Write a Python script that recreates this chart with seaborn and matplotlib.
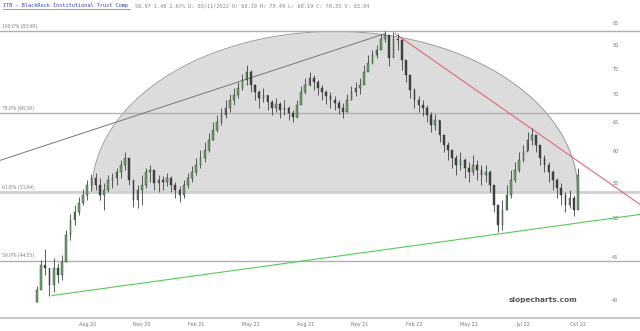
import matplotlib
matplotlib.use("Agg")
import matplotlib.pyplot as plt
from matplotlib.lines import Line2D
import numpy as np
import seaborn as sns
import pandas as pd

# weekly bars (bar index on x), prices
close = [41.1, 44.0, 43.6, 41.7, 43.6, 42.8, 44.4, 47.7, 49.7, 50.8,
         52.1, 53.2, 54.7, 55.7, 54.7, 53.2, 54.0, 55.5, 55.7, 56.7,
         57.8, 58.9, 55.5, 52.5, 54.0, 54.7, 56.7, 57.0, 55.0, 55.5,
         55.2, 55.7, 54.7, 54.0, 53.2, 54.7, 55.7, 56.7, 57.8, 58.9,
         60.2, 61.8, 63.5, 64.9, 66.2, 67.4, 68.9, 69.9, 71.2, 72.8,
         74.4, 71.8, 70.4, 69.3, 69.9, 68.6, 67.4, 68.2, 67.1, 67.4,
         66.5, 65.8, 68.0, 70.4, 71.8, 73.2, 72.4, 71.2, 70.4, 69.7,
         68.9, 68.4, 67.4, 66.7, 68.9, 70.4, 71.2, 71.8, 74.4, 76.3,
         77.9, 79.0, 81.4, 82.3, 77.3, 81.4, 81.2, 76.9, 73.8, 70.8,
         68.9, 68.0, 67.4, 66.2, 64.4, 65.3, 62.7, 61.0, 60.2, 58.9,
         57.8, 58.6, 57.3, 56.7, 57.8, 57.0, 56.2, 56.7, 54.7, 51.8,
         49.1, 51.1, 53.2, 55.5, 57.0, 58.6, 59.8, 61.8, 62.7, 61.0,
         58.9, 57.8, 56.7, 55.5, 54.3, 53.2, 51.8, 52.8, 51.1, 56.2]
high = [41.6, 44.6, 46.0, 43.6, 44.8, 44.3, 45.2, 48.4, 50.5, 51.8,
        52.9, 54.1, 55.5, 56.4, 56.6, 55.7, 55.0, 56.2, 56.6, 57.3,
        58.6, 59.8, 58.6, 55.5, 54.7, 56.2, 57.3, 57.8, 57.0, 56.2,
        56.1, 56.6, 56.1, 55.2, 54.6, 55.5, 56.6, 57.6, 58.9, 60.2,
        61.5, 63.0, 64.9, 66.2, 67.4, 68.9, 70.1, 71.2, 72.4, 74.0,
        75.8, 74.8, 72.0, 70.8, 71.2, 69.9, 68.9, 69.3, 68.6, 68.9,
        67.8, 67.1, 68.9, 71.6, 73.2, 74.4, 73.8, 72.8, 71.8, 70.8,
        70.4, 69.7, 68.9, 68.4, 70.1, 71.6, 72.4, 73.2, 75.8, 77.9,
        79.0, 80.1, 82.5, 83.1, 81.2, 82.9, 82.5, 80.1, 76.5, 73.8,
        71.2, 69.7, 68.9, 68.0, 66.7, 66.4, 65.3, 62.7, 61.5, 60.2,
        59.4, 59.8, 58.9, 58.2, 59.4, 58.6, 57.8, 57.8, 57.0, 54.3,
        51.8, 52.5, 54.7, 57.0, 58.2, 59.8, 61.0, 63.2, 63.9, 62.7,
        61.0, 59.4, 58.2, 57.0, 55.7, 55.0, 53.7, 54.0, 53.2, 57.3]
low = [39.8, 41.7, 42.8, 40.4, 40.9, 41.9, 42.2, 44.4, 47.1, 49.1,
       50.4, 51.8, 52.5, 53.8, 54.0, 52.5, 51.1, 53.7, 54.3, 54.7,
       55.7, 57.0, 54.7, 51.5, 51.4, 51.8, 54.3, 55.2, 54.0, 53.7,
       54.0, 54.6, 53.7, 52.8, 52.2, 52.8, 54.3, 55.2, 56.2, 57.3,
       58.2, 59.8, 61.8, 63.2, 64.4, 65.6, 66.7, 68.0, 69.3, 70.8,
       71.8, 70.4, 68.9, 67.4, 68.6, 67.1, 66.2, 66.7, 65.6, 66.2,
       65.3, 64.9, 65.6, 68.2, 70.1, 71.6, 70.8, 69.9, 68.9, 68.2,
       67.4, 67.1, 66.4, 65.6, 66.7, 68.9, 69.7, 70.1, 72.0, 74.8,
       76.1, 77.3, 79.4, 80.7, 75.6, 77.9, 79.0, 74.8, 72.4, 69.3,
       67.4, 66.7, 66.0, 64.9, 63.2, 63.5, 61.5, 59.8, 58.6, 57.3,
       56.2, 57.0, 55.7, 55.2, 56.2, 55.5, 54.7, 55.2, 53.7, 50.8,
       48.1, 48.4, 51.1, 52.8, 55.2, 56.7, 58.2, 60.2, 61.0, 59.8,
       57.8, 56.7, 55.2, 54.0, 52.8, 51.8, 50.8, 51.4, 50.3, 51.8]

fib_pct = ["100.0%", "78.6%", "61.8%", "50.0%"]
fib_val = [83.08, 66.58, 53.64, 44.55]

price_ticks = [40, 45, 50, 55, 60, 65, 70, 75, 80, 85]
date_pos = [12, 25, 38, 51, 64, 77, 90, 103, 116, 129]
date_lbl = ["Aug 20", "Nov 20", "Feb 21", "May 21", "Aug 21",
            "Nov 21", "Feb 22", "May 22", "Jul 22", "Oct 22"]

# trend lines (bar index, price)
black_x, black_y = [-8.8, 83.0], [58.5, 82.6]
red_x, red_y = [85.4, 143.8], [82.6, 51.9]
green_x, green_y = [3.6, 143.8], [40.5, 50.5]

# arc drawn between bar 13 and bar 129, from the 61.8% to the 100% level
arc_left, arc_right = 13.1, 129.0

df = pd.DataFrame({"bar": np.arange(len(close)), "close": close,
                   "high": high, "low": low})
df["open"] = df["close"].shift(1).fillna(df["low"])

sns.set_style("white")
fig = plt.figure(figsize=(6.4, 3.31), dpi=100)
ax = fig.add_axes([0, 13 / 331, 1, 306 / 331])
ax.set_yscale("log")
ax.set_xlim(-8.8, 143.8)
ax.set_ylim(38.1, 87.6)

# arc (ellipse in screen space -> log space in y)
xc = (arc_left + arc_right) / 2
a = (arc_right - arc_left) / 2
xs = np.linspace(arc_left, arc_right, 400)
lb, lt = np.log(fib_val[2]), np.log(fib_val[0])
ys = np.exp(lb + (lt - lb) * np.sqrt(np.clip(1 - ((xs - xc) / a) ** 2, 0, 1)))
ax.fill_between(xs, fib_val[2], ys, color="#dcdcdc", lw=0, zorder=1)
ax.plot(xs, ys, color="#9a9a9a", lw=0.7, zorder=2)

# fib levels
for p, v in zip(fib_pct, fib_val):
    lw = 2.0 if p == "61.8%" else 1.0
    col = "#d0d0d0" if p == "61.8%" else "#b0b0b0"
    ax.axhline(v, color=col, lw=lw, zorder=2)
    ax.text(-8.4, v * 1.006, f"{p} ({v:.2f})", fontsize=4,
            family="Liberation Serif", color="#777777", va="bottom", zorder=5)

# trend lines
sns.lineplot(x=black_x, y=black_y, ax=ax, color="#777777", lw=0.7, zorder=3)
sns.lineplot(x=red_x, y=red_y, ax=ax, color="#e06878", lw=0.8, zorder=3)
sns.lineplot(x=green_x, y=green_y, ax=ax, color="#55cc55", lw=0.8, zorder=3)

# candles
up = df["close"] >= df["open"]
ax.vlines(df["bar"], df["low"], df["high"], color="#333333", lw=0.55, zorder=4)
body_lo = np.minimum(df["open"], df["close"])
body_hi = np.maximum(df["open"], df["close"])
ax.bar(df["bar"][up], (body_hi - body_lo)[up], bottom=body_lo[up], width=0.4,
       color="#6aa86a", edgecolor="#333333", lw=0.3, zorder=5)
ax.bar(df["bar"][~up], (body_hi - body_lo)[~up], bottom=body_lo[~up], width=0.4,
       color="#444444", edgecolor="#333333", lw=0.3, zorder=5)

# axes cosmetics
for s in ["top", "left", "right"]:
    ax.spines[s].set_visible(False)
ax.spines["bottom"].set_color("#c8c8c8")
ax.spines["bottom"].set_linewidth(1.5)
ax.yaxis.tick_right()
ax.yaxis.set_major_locator(matplotlib.ticker.FixedLocator(price_ticks))
ax.yaxis.set_major_formatter(matplotlib.ticker.FixedFormatter([str(t) for t in price_ticks]))
ax.yaxis.set_minor_locator(matplotlib.ticker.NullLocator())
ax.tick_params(axis="y", length=0, pad=-20, labelsize=3.5, labelcolor="#777777")
ax.set_xticks(date_pos)
ax.set_xticklabels(date_lbl)
ax.tick_params(axis="x", length=0, pad=3, labelsize=3.5, labelcolor="#777777")
ax.set_xlabel("")
ax.set_ylabel("")
ax.grid(False)

ax.text(0.902, 0.058, "slopecharts.com", transform=ax.transAxes, ha="right",
        va="center", fontsize=5.3, fontweight="bold", color="#555555")

# header
fig.text(3 / 640, 1 - 6 / 331, "ITB - BlackRock Institutional Trust Comp",
         family="DejaVu Sans Mono", fontsize=3.75, color="#3344bb", va="center")
fig.text(135 / 640, 1 - 6 / 331,
         "56.97 1.48 2.67% D: 03/11/2022 O: 68.19 H: 70.49 L: 68.19 C: 70.35 V: 83.04",
         family="DejaVu Sans Mono", fontsize=3.75, color="#888888", va="center")
fig.add_artist(Line2D([3 / 640, 130 / 640], [1 - 9 / 331, 1 - 9 / 331],
                      color="#3344bb", lw=0.4))

fig.savefig("out.png", dpi=100)
